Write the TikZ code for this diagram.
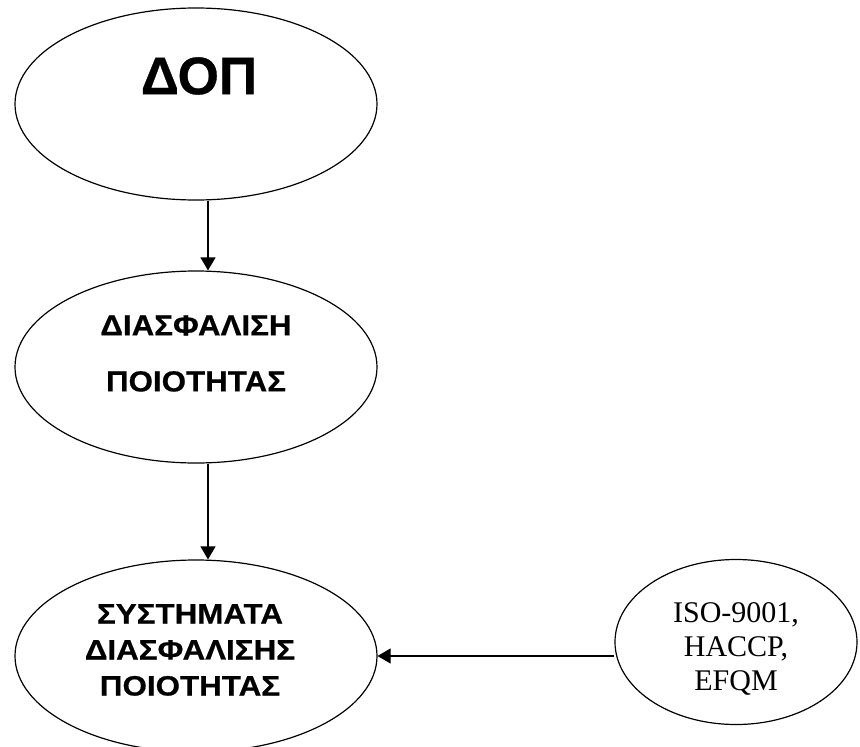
\documentclass[tikz,border=0pt]{standalone}
\usepackage{fontspec}
\setmainfont{Liberation Serif}
\setsansfont{Liberation Sans}
\usetikzlibrary{shapes.geometric, arrows.meta}

\begin{document}
\begin{tikzpicture}[
    x=1pt,
    y=-1pt,
    line width=1.2pt,
    >={Triangle[length=13pt, width=15pt]},
    oval/.style={draw, ellipse, inner sep=0, minimum width=362pt, minimum height=192pt},
    norm/.style={draw, ellipse, inner sep=0, minimum width=242pt, minimum height=165pt},
    titel/.style={inner sep=0, font=\sffamily\bfseries\fontsize{53}{60}\selectfont\addfontfeature{FakeBold=0.6}},
    schrift/.style={inner sep=0, align=center,
      font=\sffamily\bfseries\fontsize{29}{56}\selectfont\addfontfeature{FakeStretch=1.08, FakeBold=0.6}},
    klein/.style={inner sep=0, align=center,
      font=\sffamily\bfseries\fontsize{28}{36}\selectfont\addfontfeature{FakeStretch=1.12, FakeBold=0.6}},
    serif/.style={inner sep=0, align=center, font=\rmfamily\fontsize{30}{34}\selectfont}]
   \useasboundingbox (0,0) rectangle (860,747);
   \clip (0,0) rectangle (860,747);

   \path
     node(dop)   at (196,104) [oval] {}
     node(diasf) at (196,367) [oval] {}
     node(syst)  at (196,656) [oval] {}
     node(iso)   at (736,642) [norm] {};

   \node(doptext)   at (199,76)    [titel]   {ΔΟΠ};
   \node(diasftext) at (196,353.5) [schrift] {ΔΙΑΣΦΑΛΙΣΗ\\ΠΟΙΟΤΗΤΑΣ};
   \node(systtext)  at (190,650)   [klein]   {ΣΥΣΤΗΜΑΤΑ\\ΔΙΑΣΦΑΛΙΣΗΣ\\ΠΟΙΟΤΗΤΑΣ};
   \node(isotext)   at (736,648.5) [serif]   {ISO-9001,\\HACCP,\\EFQM};

   \draw[->] ([xshift=12pt]dop.south) -- ([xshift=12pt]diasf.north);
   \draw[->] ([xshift=12pt]diasf.south) -- ([xshift=12pt]syst.north);
   \draw[->] (syst.east -| iso.west) -- (syst.east);
\end{tikzpicture}
\end{document}
